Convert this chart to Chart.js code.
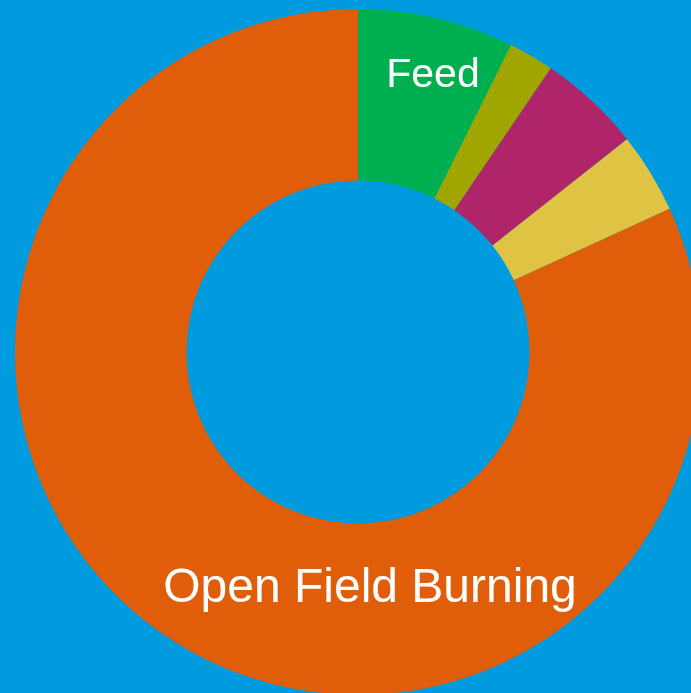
<!DOCTYPE html>
<html>
<head>
<meta charset="utf-8">
<script src="https://cdn.jsdelivr.net/npm/chart.js@4"></script>
<style>
  html, body { margin: 0; padding: 0; background: #009BDE; overflow: hidden; }
  #wrap { position: relative; width: 716px; height: 704px; }
</style>
</head>
<body>
<div id="wrap"><canvas id="donut"></canvas></div>
<script>
// Segments clockwise from the top
const categories = ['Feed', 'Other 1', 'Other 2', 'Other 3', 'Open Field Burning'];
const shares = [7.36, 2.14, 4.85, 3.79, 81.86];
const colors = ['#00B050', '#A0A500', '#B0246A', '#DFC342', '#E05E0A'];

// Labels drawn on top of the ring, offsets relative to the ring centre
const ringLabels = [
  { index: 0, text: 'Feed', dx: 75, dy: -265, size: 41 },
  { index: 4, text: 'Open Field Burning', dx: 12, dy: 250, size: 48 }
];

const labelPlugin = {
  id: 'ringLabels',
  afterDatasetsDraw(chart) {
    const ctx = chart.ctx;
    const arcs = chart.getDatasetMeta(0).data;
    ctx.save();
    ctx.fillStyle = '#FFFFFF';
    ctx.textAlign = 'center';
    ctx.textBaseline = 'alphabetic';
    ringLabels.forEach(function(l) {
      const arc = arcs[l.index];
      ctx.font = l.size + 'px "Liberation Sans", Arial, sans-serif';
      ctx.fillText(l.text, arc.x + l.dx, arc.y + l.dy);
    });
    ctx.restore();
  }
};

new Chart(document.getElementById('donut'), {
  type: 'doughnut',
  data: {
    labels: categories,
    datasets: [{
      data: shares,
      backgroundColor: colors,
      borderWidth: 0
    }]
  },
  options: {
    responsive: true,
    maintainAspectRatio: false,
    animation: false,
    cutout: '50%',
    layout: { padding: 9 },
    plugins: {
      legend: { display: false },
      tooltip: { enabled: false }
    }
  },
  plugins: [labelPlugin]
});
</script>
</body>
</html>
